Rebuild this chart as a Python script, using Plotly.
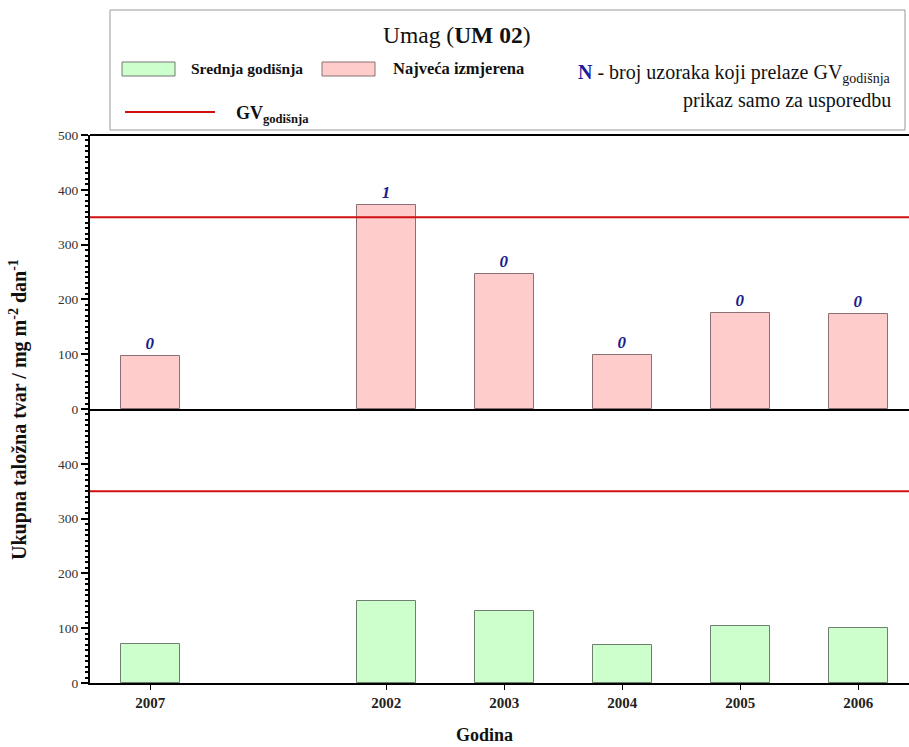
import plotly.graph_objects as go

# ---- data ----
years = ["2007", "", "2002", "2003", "2004", "2005", "2006"]
max_values = [97, None, 373, 247, 98, 175, 173]
mean_values = [71, None, 150, 131, 69, 104, 100]
n_exceed = ["0", "", "1", "0", "0", "0", "0"]
gv_limit = 350
y_ticks = [0, 100, 200, 300, 400, 500]

W, H = 909, 747
ML, MR, MT, MB = 90, 0, 135, 64

def px(x):
    return (x - ML) / (W - ML - MR)

def py(y):
    return (H - MB - y) / (H - MT - MB)

xs = [i for i, v in enumerate(max_values) if v is not None]
font_serif = "Liberation Serif, Times New Roman, serif"

fig = go.Figure()

fig.add_trace(go.Bar(
    x=xs, y=[max_values[i] for i in xs], width=0.5,
    marker=dict(color="#FFCCCC", line=dict(color="#8a7070", width=1)),
    text=[f"<b><i>{n_exceed[i]}</i></b>" for i in xs], textposition="outside",
    textfont=dict(family=font_serif, size=17, color="#1c1c8c"),
    cliponaxis=False, xaxis="x", yaxis="y", showlegend=False,
))
fig.add_trace(go.Bar(
    x=xs, y=[mean_values[i] for i in xs], width=0.5,
    marker=dict(color="#CCFFCC", line=dict(color="#6f7f6f", width=1)),
    xaxis="x2", yaxis="y2", showlegend=False,
))

xr = [-0.51, 6.43]
fig.update_layout(
    width=W, height=H,
    margin=dict(l=ML, r=MR, t=MT, b=MB, autoexpand=False),
    paper_bgcolor="white", plot_bgcolor="white",
    font=dict(family=font_serif, color="#222"),
    bargap=0,
    xaxis=dict(domain=[0, 1], anchor="y", range=xr, showticklabels=False,
               showline=True, linecolor="black", linewidth=2, showgrid=False,
               zeroline=False, mirror=False),
    yaxis=dict(domain=[0.5, 1], anchor="x", range=[0, 500], tickvals=y_ticks,
               ticks="outside", ticklen=7, tickwidth=1.5, tickcolor="black",
               showline=True, linecolor="black", linewidth=2, showgrid=False,
               zeroline=False, tickfont=dict(size=13.5, color="#333"),
               minor=dict(dtick=10, ticks="outside", ticklen=3, tickcolor="black")),
    xaxis2=dict(domain=[0, 1], anchor="y2", range=xr,
                tickvals=xs, ticktext=[years[i] for i in xs],
                ticks="outside", ticklen=5, tickcolor="black",
                tickfont=dict(size=15, color="#222", weight="bold"),
                showline=True, linecolor="black", linewidth=2, showgrid=False,
                zeroline=False),
    yaxis2=dict(domain=[0, 0.5], anchor="x2", range=[0, 500], tickvals=y_ticks[:-1],
                ticks="outside", ticklen=7, tickwidth=1.5, tickcolor="black",
                showline=True, linecolor="black", linewidth=2, showgrid=False,
                zeroline=False, tickfont=dict(size=13.5, color="#333"),
                minor=dict(dtick=10, ticks="outside", ticklen=3, tickcolor="black")),
)

shapes = []
# top border of plot
shapes.append(dict(type="line", xref="paper", yref="paper", x0=0, x1=1, y0=1, y1=1,
                   line=dict(color="black", width=2)))
# GV lines
for yr in ["y", "y2"]:
    shapes.append(dict(type="line", xref="paper", yref=yr, x0=0, x1=1,
                       y0=gv_limit, y1=gv_limit, line=dict(color="#d01010", width=2)))
# legend box
shapes.append(dict(type="rect", xref="paper", yref="paper", x0=px(110), x1=px(905),
                   y0=py(130), y1=py(10), line=dict(color="#999", width=1),
                   fillcolor="white", layer="below"))
shapes.append(dict(type="rect", xref="paper", yref="paper", x0=px(122), x1=px(175),
                   y0=py(76), y1=py(62), line=dict(color="#777", width=1), fillcolor="#CCFFCC"))
shapes.append(dict(type="rect", xref="paper", yref="paper", x0=px(322), x1=px(375),
                   y0=py(76), y1=py(62), line=dict(color="#8a7070", width=1), fillcolor="#FFCCCC"))
shapes.append(dict(type="line", xref="paper", yref="paper", x0=px(125), x1=px(215),
                   y0=py(112), y1=py(112), line=dict(color="#d01010", width=2)))
fig.update_layout(shapes=shapes)

ann = []
def add(text, x, y, size, xanchor="left", **kw):
    ann.append(dict(text=text, x=px(x), y=py(y), xref="paper", yref="paper",
                    showarrow=False, xanchor=xanchor, yanchor="middle",
                    font=dict(size=size, family=font_serif, color="#111"), **kw))

add("Umag (<b>UM 02</b>)", 457, 35, 23.5, xanchor="center")
add("<b>Srednja godišnja</b>", 189, 69, 15.5)
add("<b>Najveća izmjerena</b>", 391, 69, 16.5)
add("<b>GV<sub>godišnja</sub></b>", 234, 114, 18)
add("<b><span style='color:#1c1c9c'>N</span></b> - broj uzoraka koji prelaze GV<sub>godišnja</sub>",
    893, 73, 20, xanchor="right")
add("prikaz samo za usporedbu", 893, 100, 20, xanchor="right")
add("<b>Ukupna taložna tvar / mg m<sup>-2</sup> dan<sup>-1</sup></b>", 18, 410, 20,
    xanchor="center", textangle=-90)
add("<b>Godina</b>", 484, 735, 18, xanchor="center")
fig.update_layout(annotations=ann)

fig.write_html("out.html", config={"displayModeBar": False},
               post_script="document.body.style.margin='0';document.body.style.overflow='hidden';")
